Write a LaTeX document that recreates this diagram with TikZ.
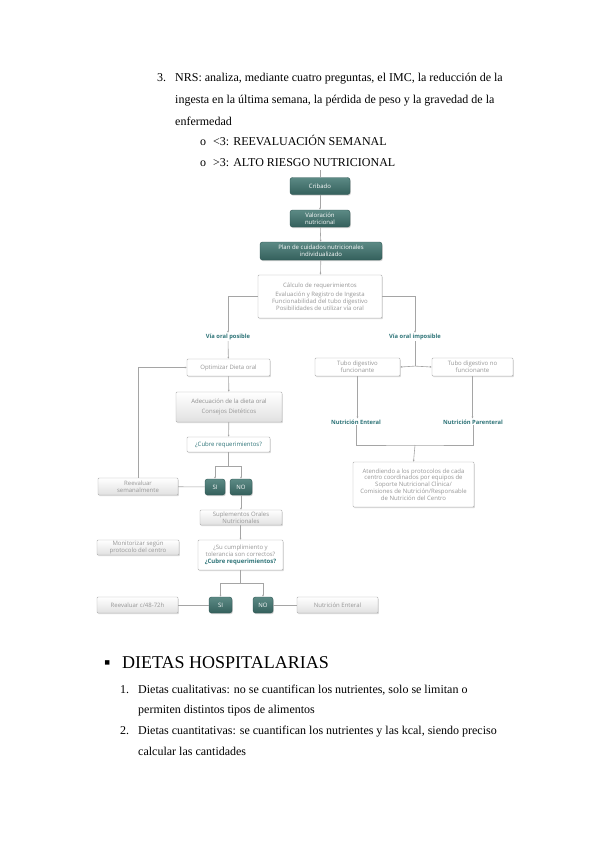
\documentclass[tikz,border=0pt]{standalone}
\usepackage{fontspec}
\setmainfont{Liberation Serif}
\newfontfamily\chartfont{Open Sans}
\usetikzlibrary{arrows.meta,shadows}
\definecolor{tealtop}{RGB}{92,138,133}
\definecolor{tealbot}{RGB}{52,96,92}
\definecolor{tealedge}{RGB}{45,85,82}
\definecolor{tealtext}{RGB}{46,116,120}
\definecolor{greytext}{RGB}{150,150,150}
\definecolor{boxline}{RGB}{175,175,175}
\definecolor{linegrey}{RGB}{165,165,165}
\tikzset{
  chart/.style={font=\chartfont\fontsize{6}{6.8}\selectfont,align=center,inner sep=1pt},
  dark/.style={chart,rounded corners=2.5pt,draw=tealedge,top color=tealtop,bottom color=tealbot,
    text=white,drop shadow={shadow xshift=0.8pt,shadow yshift=-1.2pt,opacity=0.35}},
  pale/.style={chart,rounded corners=1pt,draw=boxline,fill=white,text=greytext,
    drop shadow={shadow xshift=0.8pt,shadow yshift=-1.2pt,opacity=0.3}},
  grad/.style={pale,top color=white,bottom color=black!12},
  conn/.style={draw=linegrey,line width=0.6pt},
  arr/.style={conn,-{Latex[length=2pt,width=2pt]}},
}
\begin{document}
\begin{tikzpicture}[x=1pt,y=-1pt,
   txt/.style={inner sep=0pt,font=\fontsize{12}{14}\selectfont,anchor=base west},
   lbl/.style={chart,text=tealtext,font=\chartfont\bfseries\fontsize{5.8}{6.5}\selectfont}]
  \useasboundingbox[fill=white] (0,0) rectangle (599,848);
  % text above the chart
  \node[txt] (n3) at (157,82) {3.};
  \node[txt] (l1) at (175,82) {NRS: analiza, mediante cuatro preguntas, el IMC, la reducción de la};
  \node[txt] (l2) at (175,104) {ingesta en la última semana, la pérdida de peso y la gravedad de la};
  \node[txt] (l3) at (175,125) {enfermedad};
  \node[txt] (o1) at (200,146) {o};
  \node[txt] (i1) at (213,146) {<3: REEVALUACIÓN SEMANAL};
  \node[txt] (o2) at (200,166) {o};
  \node[txt] (i2) at (213,166) {>3: ALTO RIESGO NUTRICIONAL};
  % chart
  \coordinate (top) at (320,170);
  \node[dark,minimum width=60pt,minimum height=17pt] (crib) at (320,186) {Cribado};
  \node[dark,minimum width=60pt,minimum height=17pt] (valor) at (320,218.5) {Valoración\\nutricional};
  \node[dark,minimum width=122pt,minimum height=18pt] (plan) at (321,251) {Plan de cuidados nutricionales\\individualizado};
  \node[pale,minimum width=124pt,minimum height=43pt] (calc) at (320,296.5)
    {Cálculo de requerimientos\\[3pt]Evaluación y Registro de Ingesta\\Funcionabilidad del tubo digestivo\\Posibilidades de utilizar vía oral};
  \node[lbl] (posible) at (228,337) {Vía oral posible};
  \node[lbl] (imposible) at (415,337) {Vía oral imposible};
  \node[pale,minimum width=83pt,minimum height=17pt] (optim) at (228.5,367.5) {Optimizar Dieta oral};
  \node[grad,minimum width=106pt,minimum height=30pt] (adec) at (229,407)
    {\color{black!45}Adecuación de la dieta oral\\[4pt]Consejos Dietéticos};
  \node[pale,minimum width=83pt,minimum height=15pt,text=tealtext] (cubre) at (228.5,444.5) {¿Cubre requerimientos?};
  \node[dark,minimum width=20pt,minimum height=16pt] (si1) at (215,487) {SI};
  \node[dark,minimum width=22pt,minimum height=16pt] (no1) at (241,487) {NO};
  \node[grad,minimum width=80pt,minimum height=17pt] (reev1) at (138,486.5) {Reevaluar\\semanalmente};
  \node[grad,minimum width=82pt,minimum height=15pt] (supl) at (241,517.5) {Suplementos Orales\\Nutricionales};
  \node[pale,minimum width=85pt,minimum height=30pt] (cumpl) at (240.5,555)
    {¿Su cumplimiento y\\tolerancia son correctos?\\\textbf{\color{tealtext}¿Cubre requerimientos?}};
  \node[grad,minimum width=82pt,minimum height=15pt] (monit) at (138,547.5) {Monitorizar según\\protocolo del centro};
  \node[dark,minimum width=23pt,minimum height=16pt] (si2) at (220.5,605) {SI};
  \node[dark,minimum width=20pt,minimum height=16pt] (no2) at (263,605) {NO};
  \node[grad,minimum width=81pt,minimum height=16pt] (reev2) at (137.5,605) {Reevaluar c/48-72h};
  \node[grad,minimum width=81pt,minimum height=16pt] (ent2) at (337.5,605) {Nutrición Enteral};
  \node[pale,minimum width=85pt,minimum height=18pt] (tubof) at (357.5,367) {Tubo digestivo\\funcionante};
  \node[pale,minimum width=81pt,minimum height=18pt] (tubonf) at (472.5,367) {Tubo digestivo no\\funcionante};
  \node[lbl] (nent) at (356,422) {Nutrición Enteral};
  \node[lbl] (npar) at (473,422) {Nutrición Parenteral};
  \node[pale,minimum width=121pt,minimum height=45pt] (atend) at (413.5,484.5)
    {Atendiendo a los protocolos de cada\\centro coordinados por equipos de\\Soporte Nutricional Clínica/\\Comisiones de Nutrición/Responsable\\de Nutrición del Centro};
  % connectors
  \draw[conn] (top) -- (crib);
  \draw[arr] (crib) -- (valor);
  \draw[arr] (valor) -- (plan);
  \draw[arr] (plan) -- (calc);
  \draw[arr] (calc.west) -| (posible.north);
  \draw[arr] (calc.east) -| (imposible.north);
  \draw[arr] (posible) -- (optim);
  \draw[arr] (reev1.north) |- (optim.west);
  \draw[arr] (optim) -- (adec);
  \draw[arr] (adec) -- (cubre);
  \draw[conn] (cubre.south) -- ++(0,14) coordinate (c1);
  \draw[arr] (c1) -| (si1.north);
  \draw[arr] (c1) -| (no1.north);
  \draw[conn] (si1) -- (reev1);
  \draw[arr] (no1) -- (supl);
  \draw[arr] (supl.south -| cumpl.north) -- (cumpl.north);
  \draw[conn] (cumpl.south) -- ++(0,13) coordinate (c2);
  \draw[arr] (c2) -| (si2.north);
  \draw[arr] (c2) -| (no2.north);
  \draw[conn] (si2) -- (reev2);
  \draw[conn] (no2) -- (ent2);
  \draw[conn] (imposible.south) -- ++(0,25) coordinate (c3);
  \draw[arr] (c3) -- (tubof.east);
  \draw[arr] (c3) -- (tubonf.west);
  \draw[arr] (tubof.south) -- (tubof.south |- nent.north);
  \draw[arr] (tubonf.south) -- (tubonf.south |- npar.north);
  \coordinate (c4) at (415,445);
  \draw[conn] (nent.south) |- (c4) -| (npar.south);
  \draw[arr] (c4) -- (atend.north);
  % text below the chart
  \node[txt,font=\fontsize{18}{20}\selectfont] (bul) at (104,668) {▪};
  \node[txt,font=\fontsize{18}{20}\selectfont] (dh) at (122,668) {DIETAS HOSPITALARIAS};
  \node[txt] (m1) at (120,693) {1.};
  \node[txt] (d1) at (138,693) {Dietas cualitativas: no se cuantifican los nutrientes, solo se limitan o};
  \node[txt] (d1b) at (138,713) {permiten distintos tipos de alimentos};
  \node[txt] (m2) at (120,734) {2.};
  \node[txt] (d2) at (138,734) {Dietas cuantitativas: se cuantifican los nutrientes y las kcal, siendo preciso};
  \node[txt] (d2b) at (138,755) {calcular las cantidades};
\end{tikzpicture}
\end{document}
